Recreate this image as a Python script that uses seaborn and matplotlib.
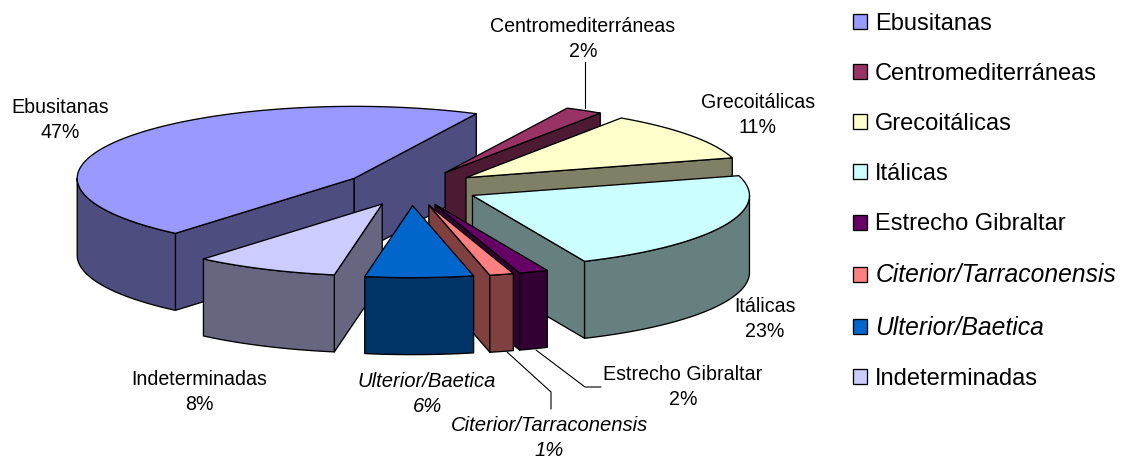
import numpy as np
import matplotlib
matplotlib.use('Agg')
import matplotlib.pyplot as plt
from matplotlib.patches import Patch
import seaborn as sns

# Slice data, in legend order
categories = ['Ebusitanas', 'Centromediterráneas', 'Grecoitálicas', 'Itálicas',
              'Estrecho Gibraltar', 'Citerior/Tarraconensis', 'Ulterior/Baetica', 'Indeterminadas']
shares = [46.1, 2.2, 11.1, 22.8, 1.7, 1.4, 6.3, 8.4]
pct_labels = ['47%', '2%', '11%', '23%', '2%', '1%', '6%', '8%']
hex_colors = ['#9999FF', '#993366', '#FFFFCC', '#CCFFFF', '#660066', '#FF8080', '#0066CC', '#CCCCFF']
italic_cats = ['Citerior/Tarraconensis', 'Ulterior/Baetica']

# Label anchors (pixels), same order as categories
label_x = [60, 583, 758, 765, 683, 549, 427, 199]
label_y = [120, 39, 115, 319, 387, 438, 394, 392]

# Pie geometry (pixels)
CENTER = (411, 188)
RX, RY = 277, 72
DEPTH = 77
EXPLODE = 0.245
START = 220.2

sns.set_theme(style='white')
plt.rcParams['font.family'] = ['Liberation Sans', 'DejaVu Sans']

palette = sns.color_palette(hex_colors)
fig = plt.figure(figsize=(11.25, 4.58), dpi=100)
ax = fig.add_axes([0, 0, 1, 1])
ax.set_xlim(0, 1125)
ax.set_ylim(458, 0)
ax.axis('off')


def ell(theta, apex):
    """Point on the tilted ellipse, theta in degrees clockwise from top."""
    t = np.radians(theta)
    return apex[0] + RX * np.sin(t), apex[1] - RY * np.cos(t)


def draw_face(xs, ys, color, z):
    ax.fill(xs, ys, facecolor=color, edgecolor='black', linewidth=0.95, joinstyle='round', zorder=z)


def draw_slice(a, b, color, z):
    mid = np.radians((a + b) / 2)
    apex = (CENTER[0] + EXPLODE * RX * np.sin(mid), CENTER[1] - EXPLODE * RY * np.cos(mid))
    dark = tuple(c * 0.5 for c in color)

    # radial side faces, only those turned towards the viewer
    for ang, visible in ((a, np.sin(np.radians(a)) < 0), (b, np.sin(np.radians(b)) > 0)):
        if visible:
            ex, ey = ell(ang, apex)
            draw_face([apex[0], ex, ex, apex[0]],
                      [apex[1], ey, ey + DEPTH, apex[1] + DEPTH], dark, z)

    # outer rim on the front half (90..270 degrees)
    lo, hi = max(a, 90), min(b, 270)
    if lo < hi:
        th = np.linspace(lo, hi, 60)
        rx, ry = ell(th, apex)
        draw_face(np.r_[rx, rx[::-1]], np.r_[ry, ry[::-1] + DEPTH], dark, z)

    # top surface
    th = np.linspace(a, b, 120)
    tx, ty = ell(th, apex)
    draw_face(np.r_[apex[0], tx], np.r_[apex[1], ty], color, z)


edges = START + np.r_[0, np.cumsum(shares)] * 3.6
bounds = []
for a, b in zip(edges[:-1], edges[1:]):
    # everything after the first slice has wrapped past the top
    if a >= 360:
        a, b = a - 360, b - 360
    bounds.append((a, b))

# painter's order: back slices first
draw_order = ['Ebusitanas', 'Centromediterráneas', 'Grecoitálicas', 'Itálicas',
              'Estrecho Gibraltar', 'Citerior/Tarraconensis', 'Indeterminadas', 'Ulterior/Baetica']
for z, name in enumerate(draw_order):
    i = categories.index(name)
    draw_slice(bounds[i][0], bounds[i][1], palette[i], z + 2)

# Data labels
for name, pct, x, y in zip(categories, pct_labels, label_x, label_y):
    italic = name in italic_cats
    ax.text(x, y, f'{name}\n{pct}', ha='center', va='center', fontsize=14.6 if italic else 14.1,
            style='italic' if italic else 'normal', color='black', linespacing=1.39, zorder=20)

# Leader lines
leaders = [([585, 585], [62, 108]),
           ([507, 551, 551], [352, 392, 409]),
           ([536, 585, 601], [350, 387, 387])]
for lx, ly in leaders:
    ax.plot(lx, ly, color='black', lw=0.8, zorder=1)

# Legend
handles = [Patch(facecolor=c, edgecolor='black', linewidth=0.95) for c in palette]
leg = ax.legend(handles, categories, loc='upper left', bbox_to_anchor=(853 / 1125, 1 - 13 / 458),
                bbox_transform=fig.transFigure, frameon=False, fontsize=17, labelcolor='black',
                handlelength=0.6, handleheight=0.6, handletextpad=0.34,
                labelspacing=1.19, borderaxespad=0, borderpad=0)
for t in leg.get_texts():
    if t.get_text() in italic_cats:
        t.set_style('italic')
        t.set_fontsize(17.7)

plt.savefig('out.png', dpi=100)
plt.close()
